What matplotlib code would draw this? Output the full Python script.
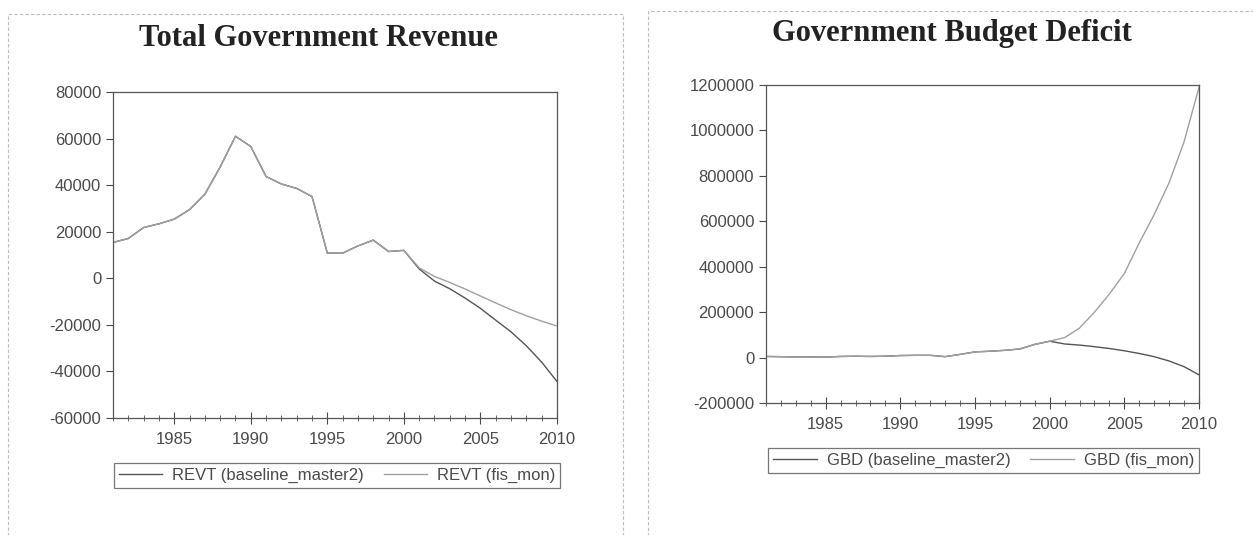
import matplotlib
matplotlib.use('Agg')
import matplotlib.pyplot as plt
from matplotlib.patches import Rectangle
from matplotlib.ticker import MultipleLocator, FormatStrFormatter

years = list(range(1981, 2011))

# REVT, 1981-2010
revt_base = [15400, 17100, 21800, 23400, 25400, 29500, 36100, 47800, 61000, 56600,
             43700, 40500, 38600, 35100, 10800, 10800, 13900, 16400, 11500, 12000,
             4000, -1200, -4500, -8500, -12900, -18000, -23000, -29000, -36000, -44300]
revt_fis = [15400, 17100, 21800, 23400, 25400, 29500, 36100, 47800, 61000, 56600,
            43700, 40500, 38600, 35100, 10800, 10800, 13900, 16400, 11500, 12000,
            4500, 800, -1800, -4600, -7600, -10600, -13500, -16100, -18400, -20500]

# GBD, 1981-2010
gbd_base = [5000, 4000, 3000, 3000, 2000, 5000, 6000, 5000, 6000, 9000,
            10000, 10000, 4000, 14000, 25000, 28000, 32000, 38000, 58000, 72000,
            60000, 55000, 48000, 40000, 30000, 18000, 4000, -15000, -40000, -76000]
gbd_fis = [5000, 4000, 3000, 3000, 2000, 5000, 6000, 5000, 6000, 9000,
           10000, 10000, 4000, 14000, 25000, 28000, 32000, 38000, 58000, 72000,
           88000, 130000, 200000, 280000, 370000, 505000, 630000, 770000, 950000, 1190000]

titles = ['Total Government Revenue', 'Government Budget Deficit']
legend_base = ['REVT (baseline_master2)', 'GBD (baseline_master2)']
legend_fis = ['REVT (fis_mon)', 'GBD (fis_mon)']

plt.rcParams['font.family'] = ['Liberation Sans', 'DejaVu Sans']
plt.rcParams['axes.unicode_minus'] = False

fig = plt.figure(figsize=(12.53, 5.35), dpi=100)

# panel frames
for (x0, y0, w, h) in [(0.006, -0.01, 0.491, 0.984), (0.517, -0.01, 0.49, 0.99)]:
    fig.patches.append(Rectangle((x0, y0), w, h, transform=fig.transFigure,
                                 fill=False, edgecolor='#bbbbbb', linewidth=0.8,
                                 linestyle=(0, (3, 2))))

ax1 = fig.add_axes([0.0902, 0.2187, 0.3543, 0.6093])
ax2 = fig.add_axes([0.6113, 0.2467, 0.3456, 0.5944])

c_base = '#555555'
c_fis = '#a0a0a0'
tc = '#4a4a4a'

def style(ax, ylo, yhi, ystep):
    ax.set_xlim(1981, 2010)
    ax.set_ylim(ylo, yhi)
    ax.yaxis.set_major_locator(MultipleLocator(ystep))
    ax.yaxis.set_major_formatter(FormatStrFormatter('%d'))
    ax.set_xticks([1985, 1990, 1995, 2000, 2005, 2010])
    ax.xaxis.set_minor_locator(MultipleLocator(1))
    ax.tick_params(axis='both', which='major', direction='out', length=5,
                   width=0.8, colors=tc, labelsize=12, labelcolor=tc)
    ax.tick_params(axis='x', which='minor', direction='inout', length=4,
                   width=0.6, color=tc)
    ax.tick_params(axis='x', which='major', direction='inout', length=8, pad=6)
    for s in ax.spines.values():
        s.set_color('#555555')
        s.set_linewidth(0.9)

ax1.plot(years, revt_base, color=c_base, lw=1.0, label=legend_base[0])
ax1.plot(years, revt_fis, color=c_fis, lw=1.0, label=legend_fis[0])
style(ax1, -60000, 80000, 20000)

ax2.plot(years, gbd_base, color=c_base, lw=1.0, label=legend_base[1])
ax2.plot(years, gbd_fis, color=c_fis, lw=1.0, label=legend_fis[1])
style(ax2, -200000, 1200000, 200000)

fig.text(0.254, 0.928, titles[0], ha='center', va='center', fontsize=22,
         fontweight='bold', family='Liberation Serif', color='#222222')
fig.text(0.760, 0.938, titles[1], ha='center', va='center', fontsize=22,
         fontweight='bold', family='Liberation Serif', color='#222222')

for ax, anchor in [(ax1, (0.269, 0.112)), (ax2, (0.785, 0.14))]:
    leg = ax.legend(loc='center', bbox_to_anchor=anchor, bbox_transform=fig.transFigure,
                    ncol=2, fontsize=12, frameon=True, fancybox=False,
                    handlelength=2.6, handletextpad=0.6, columnspacing=1.2,
                    borderpad=0.3)
    leg.get_frame().set_edgecolor('#555555')
    leg.get_frame().set_linewidth(0.9)
    for t in leg.get_texts():
        t.set_color(tc)

fig.savefig('out.png', dpi=100)
